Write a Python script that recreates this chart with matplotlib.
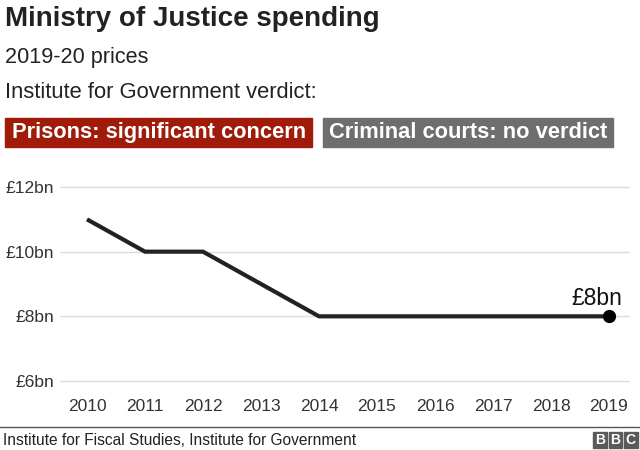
import matplotlib
matplotlib.use("Agg")
import matplotlib.pyplot as plt
from matplotlib.patches import Rectangle

years = [2010, 2011, 2012, 2013, 2014, 2015, 2016, 2017, 2018, 2019]
spending = [11, 10, 10, 9, 8, 8, 8, 8, 8, 8]
yticks = [6, 8, 10, 12]
ytick_labels = ["£6bn", "£8bn", "£10bn", "£12bn"]
end_label = "£8bn"

plt.rcParams['font.family'] = ['Liberation Sans', 'DejaVu Sans']

W, H = 640, 450
fig = plt.figure(figsize=(W/100, H/100), dpi=100)
renderer = fig.canvas.get_renderer()

def fx(px): return px / W
def fy(py): return 1 - py / H

def fit_text(x, y, s, width_px, size0, **kw):
    t = fig.text(fx(x), fy(y), s, fontsize=size0, **kw)
    w = t.get_window_extent(renderer=renderer).width
    t.set_fontsize(size0 * width_px / w)
    return t

# axes pixel box
ax_l, ax_r, ax_t, ax_b = 60, 630, 180, 386
ax = fig.add_axes([fx(ax_l), fy(ax_b), fx(ax_r - ax_l), (ax_b - ax_t) / H])
px_per_unit = (381 - 187) / 6.0
ax.set_ylim(6 - (ax_b - 381) / px_per_unit, 12 + (187 - ax_t) / px_per_unit)
px_per_year = (609 - 87) / 9.0
ax.set_xlim(2010 - (87 - ax_l) / px_per_year, 2019 + (ax_r - 609) / px_per_year)

for v in yticks:
    ax.axhline(v, color="#dddddd", lw=1, zorder=0)
ax.plot(years, spending, color="#222222", lw=3, solid_capstyle="butt", solid_joinstyle="miter", zorder=3)
ax.plot(years[-1], spending[-1], "o", color="black", ms=8.5, zorder=4)
ax.annotate(end_label, (years[-1], spending[-1]), xytext=(-12, 11), textcoords="offset pixels",
            fontsize=16.5, ha="center", va="baseline", color="#111111")

for s in ax.spines.values():
    s.set_visible(False)
ax.set_yticks(yticks)
ax.set_yticklabels(ytick_labels)
ax.set_xticks(years)
ax.set_xticklabels([str(y) for y in years])
ax.tick_params(axis="both", length=0, labelsize=12.5, colors="#333333")
ax.tick_params(axis="y", pad=4.5)
ax.tick_params(axis="x", pad=9.5)
ax.patch.set_alpha(0)

# titles
fit_text(5, 26, "Ministry of Justice spending", 375, 19, fontweight="bold", color="#222222", va="baseline", ha="left")
fit_text(5, 63, "2019-20 prices", 143, 15, color="#222222", va="baseline", ha="left")
fit_text(5, 98, "Institute for Government verdict:", 314, 15, color="#222222", va="baseline", ha="left")

# verdict boxes
fig.patches.append(Rectangle((fx(5), fy(147)), fx(307), (147 - 118) / H, transform=fig.transFigure,
                             color="#a11b0a", zorder=1))
fit_text(11.5, 138, "Prisons: significant concern", 295, 14, fontweight="bold", color="white",
         va="baseline", ha="left", zorder=2)
fig.patches.append(Rectangle((fx(323), fy(147)), fx(290), (147 - 118) / H, transform=fig.transFigure,
                             color="#6e6e6e", zorder=1))
fit_text(329, 138, "Criminal courts: no verdict", 279, 14, fontweight="bold", color="white",
         va="baseline", ha="left", zorder=2)

# footer
fig.add_artist(plt.Line2D([0, 1], [fy(427), fy(427)], transform=fig.transFigure, color="#555555", lw=1))
fit_text(3, 445, "Institute for Fiscal Studies, Institute for Government", 352, 11,
         color="#222222", va="baseline", ha="left")
for i, letter in enumerate("BBC"):
    x0 = 593 + i * 15.5
    fig.patches.append(Rectangle((fx(x0), fy(448)), fx(13.5), 16 / H, transform=fig.transFigure, color="#5a5a5a"))
    fig.text(fx(x0 + 6.75), fy(440), letter, fontsize=10, fontweight="bold", color="white",
             ha="center", va="center")

fig.savefig("out.png", dpi=100)
